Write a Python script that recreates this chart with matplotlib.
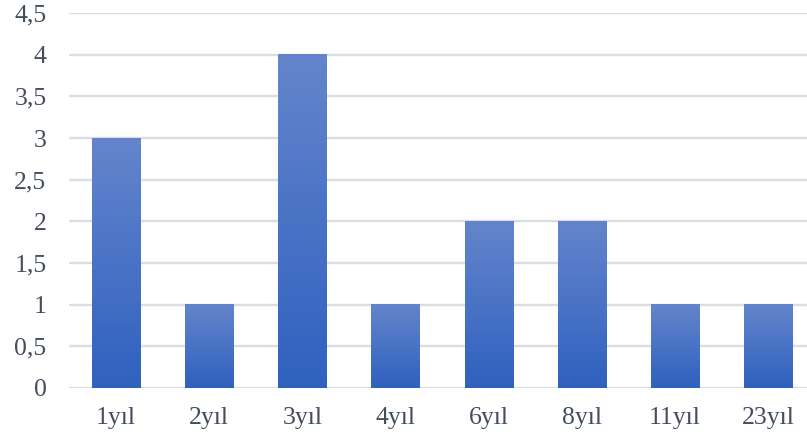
import numpy as np
import matplotlib
matplotlib.use("Agg")
import matplotlib.pyplot as plt
from matplotlib.colors import LinearSegmentedColormap
from matplotlib.ticker import FuncFormatter

categories = ["1yıl", "2yıl", "3yıl", "4yıl", "6yıl", "8yıl", "11yıl", "23yıl"]
values = [3, 1, 4, 1, 2, 2, 1, 1]
yticks = [0, 0.5, 1, 1.5, 2, 2.5, 3, 3.5, 4, 4.5]

W, H, DPI = 807, 441, 100
fig = plt.figure(figsize=(W / DPI, H / DPI), dpi=DPI)
left, right = 69.4, 814.6
bottom, top = 388, 13
ax = fig.add_axes([left / W, 1 - bottom / H, (right - left) / W, (bottom - top) / H])

text_color = "#434d5e"
grid_color = "#d9dde4"
font = "Liberation Serif"

for y in yticks:
    ax.axhline(y, color=grid_color, lw=1.7, zorder=0)

cmap = LinearSegmentedColormap.from_list("bar", ["#2f61bf", "#6485cc"])
grad = np.linspace(0, 1, 256).reshape(-1, 1)
bar_w = 0.516
x = np.arange(len(categories))
bars = ax.bar(x, values, width=bar_w, color="none", zorder=2)
for b in bars:
    x0, y0 = b.get_x(), b.get_y()
    ax.imshow(grad, cmap=cmap, origin="lower", aspect="auto",
              extent=(x0, x0 + b.get_width(), y0, y0 + b.get_height()),
              interpolation="bilinear", zorder=2)
ax.set_xlim(-0.5, len(categories) - 0.5)
ax.set_ylim(0, 4.5)

ax.set_xticks(x)
ax.set_xticklabels(categories)
ax.set_yticks(yticks)
ax.yaxis.set_major_formatter(FuncFormatter(lambda v, p: f"{v:g}".replace(".", ",")))
ax.tick_params(axis="both", length=0, labelsize=18.5, labelcolor=text_color)
ax.tick_params(axis="y", pad=16.5)
ax.tick_params(axis="x", pad=14)
for lab in ax.get_xticklabels() + ax.get_yticklabels():
    lab.set_fontfamily(font)
for s in ax.spines.values():
    s.set_visible(False)

fig.savefig("out.png", dpi=DPI)
